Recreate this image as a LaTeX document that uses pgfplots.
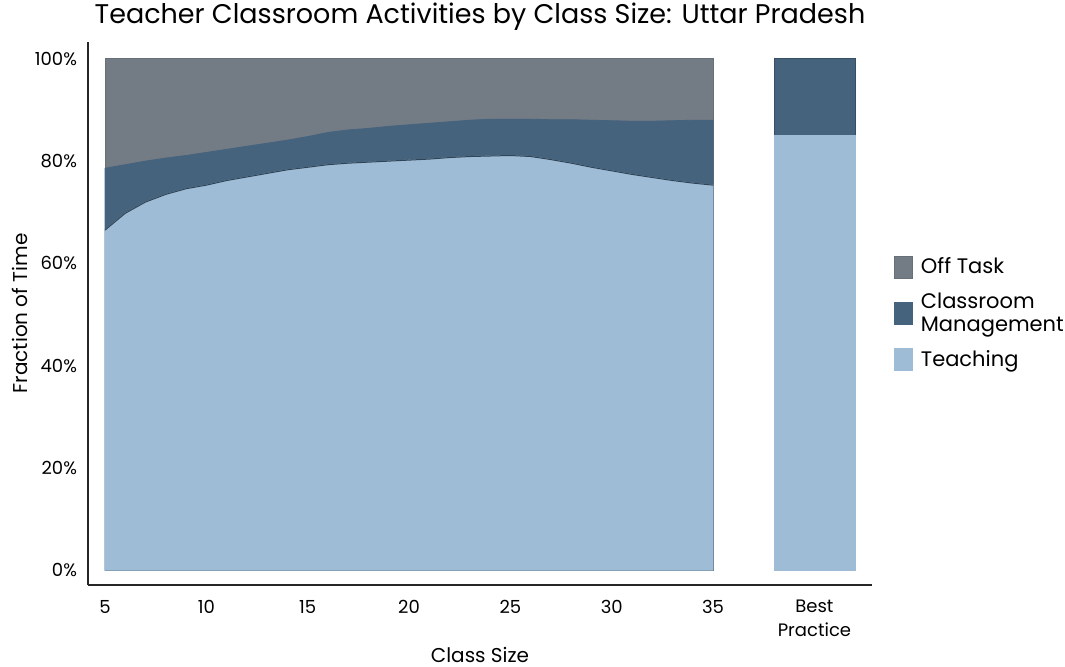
\documentclass[border=0pt]{standalone}
\usepackage{fontspec}
\setmainfont{Poppins}
\usepackage{pgfplots}
\usepackage{pgfplotstable}
\pgfplotsset{compat=1.18}

\definecolor{offtask}{RGB}{115,123,133}
\definecolor{mgmt}{RGB}{69,99,125}
\definecolor{teach}{RGB}{158,188,214}

% cumulative shares (%): teaching, teaching + classroom management
\pgfplotstableread{
x  teach mgmt
5  66.5  78.6
6  69.8  79.3
7  72.0  80.0
8  73.5  80.6
9  74.6  81.1
10 75.3  81.7
11 76.2  82.3
12 76.9  82.9
13 77.6  83.5
14 78.3  84.1
15 78.8  84.8
16 79.3  85.6
17 79.6  86.1
18 79.8  86.4
19 80.0  86.8
20 80.2  87.1
21 80.4  87.4
22 80.7  87.7
23 80.9  88.0
24 81.0  88.2
25 81.1  88.2
26 80.9  88.2
27 80.3  88.1
28 79.6  88.1
29 78.8  88.0
30 78.1  87.9
31 77.4  87.8
32 76.8  87.8
33 76.2  87.9
34 75.7  88.0
35 75.3  88.0
}\shares

\begin{document}
\begin{tikzpicture}
\begin{axis}[
    name=ax,
    width=392pt, height=271.5pt, scale only axis,
    xmin=4.16, xmax=42.84, ymin=-2.9, ymax=103.3,
    axis lines*=left,
    axis line style={black!85, line width=0.7pt},
    major tick length=0pt,
    xtick={5,10,15,20,25,30,35,40},
    xticklabels={5,10,15,20,25,30,35,{Best\\Practice}},
    xticklabel style={align=center, font=\fontsize{9}{12}\selectfont, yshift=-4pt},
    ytick={0,20,40,60,80,100},
    yticklabels={0\%,20\%,40\%,60\%,80\%,100\%},
    yticklabel style={font=\fontsize{9}{11}\selectfont, xshift=-2pt},
    /pgf/number format/assume math mode=true,
    title={Teacher Classroom Activities by Class Size: Uttar Pradesh},
    title style={font=\fontsize{13.5}{16}\selectfont, at={(axis description cs:0.5,1)}, anchor=south, yshift=-4pt},
    xlabel={Class Size},
    xlabel style={font=\fontsize{10}{12}\selectfont, at={(axis description cs:0.5,0)}, anchor=center, yshift=-35pt},
    ylabel={Fraction of Time},
    ylabel style={font=\fontsize{10}{12}\selectfont, at={(axis description cs:-0.0867,0.5)}, anchor=center},
    legend style={at={(axis description cs:1.02,0.5)}, anchor=west, draw=none, fill=none,
        font=\fontsize{10.5}{11.5}\selectfont, cells={align=left, anchor=west}, row sep=4pt},
    legend image code/.code={\fill[#1] (0pt,-5.5pt) rectangle (9pt,5.5pt);},
]
\addplot[fill=offtask, draw=offtask!90!black] coordinates {(5,100) (35,100)} \closedcycle;
\addlegendentry{\hspace{2pt}Off Task}
\addplot[fill=mgmt, draw=mgmt] table[x=x, y=mgmt] {\shares} \closedcycle;
\addlegendentry{\hspace{2pt}Classroom\\\hspace{2pt}Management}
\addplot[fill=teach, draw=teach] table[x=x, y=teach] {\shares} \closedcycle;
\addlegendentry{\hspace{2pt}Teaching}
\addplot[draw=mgmt!70!black, line width=0.5pt, forget plot] table[x=x, y=teach] {\shares};
% best practice bar
\addplot[fill=mgmt, draw=mgmt!80!black, forget plot] coordinates {(38,100) (42,100)} \closedcycle;
\addplot[fill=teach, draw=teach, forget plot] coordinates {(38,85.1) (42,85.1)} \closedcycle;
\end{axis}
\pgfresetboundingbox
\path ([shift={(-44pt,-41pt)}]ax.south west) rectangle ([shift={(96.5pt,21pt)}]ax.north east);
\end{tikzpicture}
\end{document}
